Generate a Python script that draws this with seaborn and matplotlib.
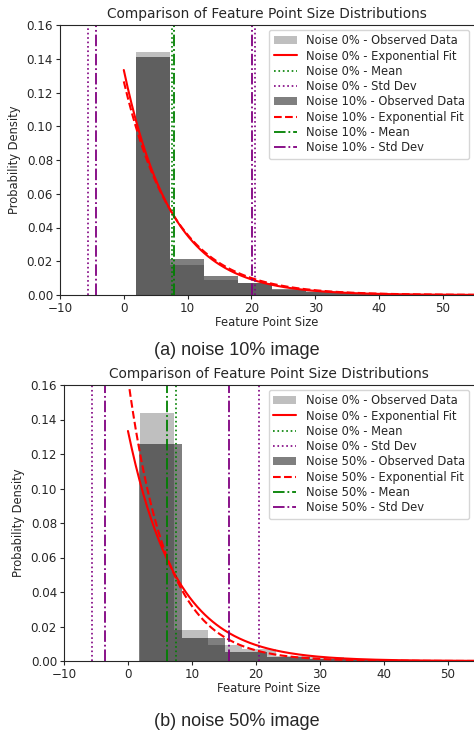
import matplotlib
matplotlib.use("Agg")
import matplotlib.pyplot as plt
import numpy as np
import seaborn as sns

sns.set_style("ticks")
plt.rcParams['font.family'] = ['DejaVu Sans']

# Data
edges_0 = [1.86, 7.19, 12.52, 17.85, 23.18, 28.51, 33.84, 39.17, 44.5, 49.83, 55.16]
dens_0 = [0.144, 0.018, 0.009, 0.0072, 0.003, 0.0025, 0.0012, 0.0005, 0.0002, 0.0001]

edges_10 = [1.86, 7.19, 12.52, 17.85, 23.18, 28.51, 33.84, 39.17, 44.5, 49.83, 55.16]
dens_10 = [0.141, 0.0215, 0.011, 0.0072, 0.0035, 0.0015, 0.0012, 0.0004, 0.0002, 0.0001]

edges_50 = [1.76, 8.42, 15.1, 21.8, 28.45, 35.1, 41.75, 48.4, 55.05]
dens_50 = [0.126, 0.0135, 0.0055, 0.0025, 0.0012, 0.0005, 0.0002, 0.0001]

mean_0, std_0 = 7.5, 13.05
mean_10, std_10 = 7.9, 12.2
mean_50, std_50 = 6.1, 9.68

panels = [
    ("10%", edges_10, dens_10, mean_10, std_10, "(a) noise 10% image"),
    ("50%", edges_50, dens_50, mean_50, std_50, "(b) noise 50% image"),
]

W, H = 474, 734
fig = plt.figure(figsize=(W / 100, H / 100), dpi=100)

# axes boxes in pixels: left, top, bottom, xmax
boxes = [(60, 25, 295, 54.9), (64, 385, 661, 54.1)]
caption_y = [350, 722]

xs = np.linspace(0, 60, 300)

for (noise, edges, dens, mean, std, caption), (left, top, bottom, xmax), cy in zip(panels, boxes, caption_y):
    ax = fig.add_axes([left / W, 1 - bottom / H, 1 - left / W, (bottom - top) / H])

    # Noise 0% reference
    c0 = [(a + b) / 2 for a, b in zip(edges_0[:-1], edges_0[1:])]
    sns.histplot(x=c0, weights=dens_0, bins=edges_0, stat='count', color='gray',
                 alpha=0.5, linewidth=0, ax=ax, label='Noise 0% - Observed Data')
    sns.lineplot(x=xs, y=np.exp(-xs / mean_0) / mean_0, color='red', lw=1.5,
                 ax=ax, label='Noise 0% - Exponential Fit')
    ax.axvline(mean_0, color='green', ls=':', lw=1.2, label='Noise 0% - Mean')
    ax.axvline(mean_0 - std_0, color='purple', ls=':', lw=1.2, label='Noise 0% - Std Dev')
    ax.axvline(mean_0 + std_0, color='purple', ls=':', lw=1.2)

    # Noisy image
    c = [(a + b) / 2 for a, b in zip(edges[:-1], edges[1:])]
    sns.histplot(x=c, weights=dens, bins=edges, stat='count', color='black',
                 alpha=0.5, linewidth=0, ax=ax, label=f'Noise {noise} - Observed Data')
    sns.lineplot(x=xs, y=np.exp(-xs / mean) / mean, color='red', ls='--', lw=1.5,
                 ax=ax, label=f'Noise {noise} - Exponential Fit')
    ax.axvline(mean, color='green', ls='-.', lw=1.3, label=f'Noise {noise} - Mean')
    ax.axvline(mean - std, color='purple', ls='-.', lw=1.3, label=f'Noise {noise} - Std Dev')
    ax.axvline(mean + std, color='purple', ls='-.', lw=1.3)

    ax.set_xlim(-10, xmax)
    ax.set_ylim(0, 0.16)
    ax.set_xticks([-10, 0, 10, 20, 30, 40, 50])
    ax.set_yticks(np.arange(0, 0.161, 0.02))
    ax.yaxis.set_major_formatter(matplotlib.ticker.FormatStrFormatter('%.2f'))
    ax.tick_params(labelsize=8.6, length=3, pad=2)
    ax.spines['right'].set_visible(False)
    ax.set_title('Comparison of Feature Point Size Distributions', fontsize=9.9, pad=5)
    ax.set_xlabel('Feature Point Size', fontsize=8.3, labelpad=1)
    ax.set_ylabel('Probability Density', fontsize=8.3, labelpad=4)

    order = ['Noise 0% - Observed Data', 'Noise 0% - Exponential Fit',
             'Noise 0% - Mean', 'Noise 0% - Std Dev',
             f'Noise {noise} - Observed Data', f'Noise {noise} - Exponential Fit',
             f'Noise {noise} - Mean', f'Noise {noise} - Std Dev']
    handles, labels = ax.get_legend_handles_labels()
    lookup = dict(zip(labels, handles))
    ax.legend([lookup[k] for k in order], order, loc='upper right',
              fontsize=8.3, framealpha=0.8, labelspacing=0.2, borderaxespad=0.4)

    fig.text(0.5, 1 - cy / H, caption, ha='center', va='center', fontsize=13,
             family=['Liberation Sans', 'DejaVu Sans'])

fig.savefig('out.png', dpi=100)
